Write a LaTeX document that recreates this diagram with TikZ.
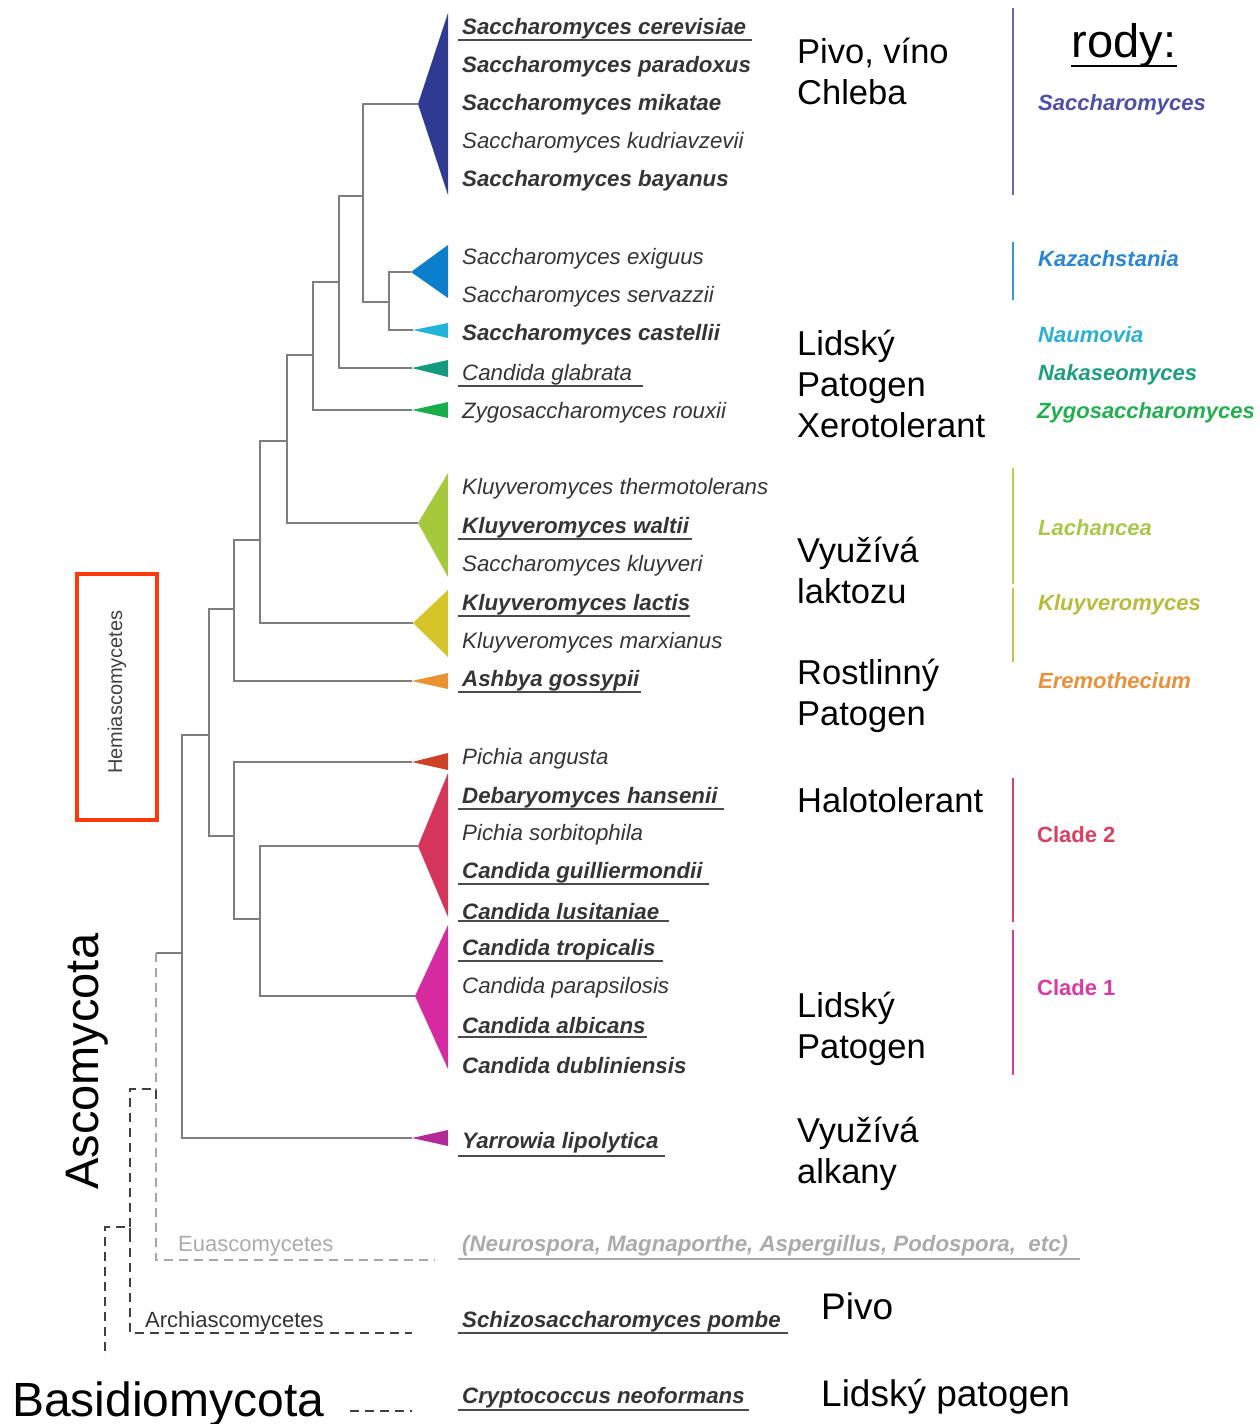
\documentclass[tikz,border=0pt]{standalone}
\usepackage{fontspec}
\setmainfont{Liberation Sans}
\definecolor{treegray}{HTML}{7E7E7E}
\definecolor{spgray}{HTML}{353535}
\definecolor{ulgray}{HTML}{4A4A4A}
\definecolor{eugray}{HTML}{ABABAB}
\definecolor{hemired}{HTML}{FF3A0A}
\definecolor{csac}{HTML}{2F3B93}
\definecolor{ckaz}{HTML}{0B7FCB}
\definecolor{ccas}{HTML}{22B3DA}
\definecolor{cgla}{HTML}{159A7F}
\definecolor{czyg}{HTML}{17AD4A}
\definecolor{clac}{HTML}{A6C83B}
\definecolor{cklu}{HTML}{D6C52A}
\definecolor{cash}{HTML}{EA9130}
\definecolor{cpic}{HTML}{CF4125}
\definecolor{ccltwo}{HTML}{D5355A}
\definecolor{cclone}{HTML}{D62AA0}
\definecolor{cyar}{HTML}{B12A98}
\definecolor{gsac}{HTML}{4E4FA8}
\definecolor{gkaz}{HTML}{2A86D0}
\definecolor{gnau}{HTML}{2BB0D4}
\definecolor{gnak}{HTML}{1E9E80}
\definecolor{gzyg}{HTML}{21B050}
\definecolor{glac}{HTML}{A9C84A}
\definecolor{gklu}{HTML}{B8BB3E}
\definecolor{gere}{HTML}{E8903A}
\definecolor{gcltwo}{HTML}{D84060}
\definecolor{gclone}{HTML}{D83CA0}
\definecolor{bsac}{HTML}{6666B8}
\definecolor{bkaz}{HTML}{3399D6}
\definecolor{blac}{HTML}{B5D050}
\definecolor{bklu}{HTML}{C8C44A}
\tikzset{
 br/.style={draw=treegray, line width=2.3pt},
 dk/.style={draw=black!75, line width=1.8pt, dash pattern=on 9pt off 6pt},
 lt/.style={draw=black!35, line width=1.8pt, dash pattern=on 9pt off 6pt},
 sp/.style={anchor=west, inner sep=0pt, yshift=-2pt, text=spgray, font=\fontsize{22.3}{26}\selectfont\itshape},
 spb/.style={sp, font=\fontsize{22.3}{26}\selectfont\bfseries\itshape},
 ul/.style={draw=ulgray, line width=2pt},
 ann/.style={anchor=west, inner sep=0pt, align=left, font=\fontsize{34.5}{41}\selectfont},
 annbig/.style={anchor=west, inner sep=0pt, align=left, font=\fontsize{37}{42}\selectfont},
 gen/.style={anchor=west, inner sep=0pt, yshift=-2pt, font=\fontsize{22}{26}\selectfont\bfseries\itshape},
 clade/.style={anchor=west, inner sep=0pt, yshift=-2pt, font=\fontsize{22}{26}\selectfont\bfseries},
 grp/.style={anchor=west, inner sep=0pt, yshift=-2pt, font=\fontsize{22}{26}\selectfont},
 gbar/.style={line width=2.5pt},
}
\begin{document}
\begin{tikzpicture}[x=1pt,y=-1pt]
\useasboundingbox (0,0) rectangle (1260,1424);

% ---- collapsed clades (triangles) ----
\coordinate (sac) at (418,104);
\coordinate (kaz) at (411,272);
\coordinate (cas) at (413,330);
\coordinate (gla) at (412,368);
\coordinate (zyg) at (412,410);
\coordinate (lac) at (418,523);
\coordinate (klu) at (413,623);
\coordinate (ash) at (412,681);
\coordinate (pic) at (412,762);
\coordinate (cltwo) at (418,846);
\coordinate (clone) at (415,996);
\coordinate (yar) at (412,1138);

\fill[csac] (sac) -- (448,13) -- (448,195) -- cycle;
\fill[ckaz] (kaz) -- (448,245) -- (448,298) -- cycle;
\fill[ccas] (cas) -- (448,323) -- (448,338) -- cycle;
\fill[cgla] (gla) -- (448,360) -- (448,377) -- cycle;
\fill[czyg] (zyg) -- (448,402) -- (448,418) -- cycle;
\fill[clac] (lac) -- (448,473) -- (448,577) -- cycle;
\fill[cklu] (klu) -- (448,590) -- (448,657) -- cycle;
\fill[cash] (ash) -- (448,673) -- (448,689) -- cycle;
\fill[cpic] (pic) -- (448,753) -- (448,770) -- cycle;
\fill[ccltwo] (cltwo) -- (448,773) -- (448,917) -- cycle;
\fill[cclone] (clone) -- (448,925) -- (448,1069) -- cycle;
\fill[cyar] (yar) -- (448,1130) -- (448,1146) -- cycle;

% ---- internal nodes ----
\coordinate (nB) at (389,302);
\coordinate (nA) at (363,196);
\coordinate (nC) at (339,282);
\coordinate (nD) at (313,355);
\coordinate (nE) at (287,441);
\coordinate (nF) at (260,540);
\coordinate (nG) at (234,609);
\coordinate (nI) at (260,919);
\coordinate (nH) at (234,836);
\coordinate (nJ) at (209,735);
\coordinate (nK) at (182,953);
\coordinate (nL) at (156,953);

\draw[br] (nB) |- (kaz);  \draw[br] (nB) |- (cas);
\draw[br] (nA) |- (sac);  \draw[br] (nA) |- (nB);
\draw[br] (nC) |- (nA);   \draw[br] (nC) |- (gla);
\draw[br] (nD) |- (nC);   \draw[br] (nD) |- (zyg);
\draw[br] (nE) |- (nD);   \draw[br] (nE) |- (lac);
\draw[br] (nF) |- (nE);   \draw[br] (nF) |- (klu);
\draw[br] (nG) |- (nF);   \draw[br] (nG) |- (ash);
\draw[br] (nI) |- (cltwo); \draw[br] (nI) |- (clone);
\draw[br] (nH) |- (pic);  \draw[br] (nH) |- (nI);
\draw[br] (nJ) |- (nG);   \draw[br] (nJ) |- (nH);
\draw[br] (nK) |- (nJ);   \draw[br] (nK) |- (yar);
\draw[br] (nL) -- (nK);

% ---- dashed deep branches ----
\coordinate (euEnd) at (435,1260);
\draw[lt] (nL) |- (euEnd);
\coordinate (hemiEu) at (156,1099);
\coordinate (hemiEuTop) at (156,1089);
\coordinate (arN) at (130,1089);
\coordinate (archEnd) at (412,1333);
\draw[dk] (hemiEu) -- (hemiEuTop) -- (arN) |- (archEnd);
\coordinate (arTick) at (130,1237);
\coordinate (arTop) at (130,1227);
\coordinate (rootTop) at (105,1227);
\coordinate (root) at (105,1357);
\draw[dk] (arTick) -- (arTop) -- (rootTop) -- (root);
\coordinate (basS) at (350,1411);
\coordinate (basE) at (412,1411);
\draw[dk] (basS) -- (basE);

% ---- species ----
\node[spb] (s1) at (462,27) {Saccharomyces cerevisiae};
\draw[ul] (458,40) -- (752,40);
\node[spb] (s2) at (462,65) {Saccharomyces paradoxus};
\node[spb] (s3) at (462,103) {Saccharomyces mikatae};
\node[sp] (s4) at (462,141) {Saccharomyces kudriavzevii};
\node[spb] (s5) at (462,179) {Saccharomyces bayanus};
\node[sp] (s6) at (462,257) {Saccharomyces exiguus};
\node[sp] (s7) at (462,295) {Saccharomyces servazzii};
\node[spb] (s8) at (462,333) {Saccharomyces castellii};
\node[sp] (s9) at (462,373) {Candida glabrata};
\draw[ul] (458,386) -- (643,386);
\node[sp] (s10) at (462,411) {Zygosaccharomyces rouxii};
\node[sp] (s11) at (462,487) {Kluyveromyces thermotolerans};
\node[spb] (s12) at (462,526) {Kluyveromyces waltii};
\draw[ul] (458,539) -- (692,539);
\node[sp] (s13) at (462,564) {Saccharomyces kluyveri};
\node[spb] (s14) at (462,603) {Kluyveromyces lactis};
\draw[ul] (458,616) -- (690,616);
\node[sp] (s15) at (462,641) {Kluyveromyces marxianus};
\node[spb] (s16) at (462,679) {Ashbya gossypii};
\draw[ul] (458,692) -- (641,692);
\node[sp] (s17) at (462,757) {Pichia angusta};
\node[spb] (s18) at (462,796) {Debaryomyces hansenii};
\draw[ul] (458,809) -- (724,809);
\node[sp] (s19) at (462,833) {Pichia sorbitophila};
\node[spb] (s20) at (462,871) {Candida guilliermondii};
\draw[ul] (458,884) -- (709,884);
\node[spb] (s21) at (462,910) {Candida lusitaniae};
\draw[ul] (458,921) -- (669,921);
\node[spb] (s22) at (462,948) {Candida tropicalis};
\draw[ul] (458,961) -- (663,961);
\node[sp] (s23) at (462,986) {Candida parapsilosis};
\node[spb] (s24) at (462,1024) {Candida albicans};
\draw[ul] (458,1037) -- (647,1037);
\node[spb] (s25) at (462,1064) {Candida dubliniensis};
\node[spb] (s26) at (462,1141) {Yarrowia lipolytica};
\draw[ul] (458,1156) -- (665,1156);
\node[spb, text=eugray] (s27) at (462,1244) {(Neurospora, Magnaporthe, Aspergillus, Podospora,\ \ etc)};
\draw[ul, draw=eugray] (458,1259) -- (1080,1259);
\node[spb] (s28) at (462,1320) {Schizosaccharomyces pombe};
\draw[ul] (458,1333) -- (788,1333);
\node[spb] (s29) at (462,1396) {Cryptococcus neoformans};
\draw[ul] (458,1410) -- (749,1410);

% ---- group labels on the tree ----
\node[grp, text=eugray] (eu) at (178,1244) {Euascomycetes};
\node[grp, text=black!80] (arch) at (145,1320) {Archiascomycetes};
\node[draw=hemired, line width=4.5pt, minimum width=80pt, minimum height=246pt, inner sep=0pt] (hemibox) at (117,697) {};
\node[rotate=90, inner sep=0pt, text=black!75, font=\fontsize{20}{24}\selectfont] (hemi) at (117,692) {Hemiascomycetes};
\node[rotate=90, anchor=base west, inner sep=0pt, font=\fontsize{47}{50}\selectfont] (asco) at (98,1190) {Ascomycota};
\node[anchor=base west, inner sep=0pt, font=\fontsize{48}{50}\selectfont] (basi) at (12,1416) {Basidiomycota};

% ---- annotations ----
\node[ann] (a1) at (797,71.5) {Pivo, víno\\Chleba};
\node[ann] (a2) at (797,384) {Lidský\\Patogen\\Xerotolerant};
\node[ann] (a3) at (797,570.5) {Využívá\\laktozu};
\node[ann] (a4) at (797,696) {Rostlinný\\Patogen};
\node[ann] (a5) at (797,800) {Halotolerant};
\node[ann] (a6) at (797,1028.5) {Lidský\\Patogen};
\node[ann] (a7) at (797,1154) {Využívá\\alkany};
\node[annbig] (a8) at (821,1306) {Pivo};
\node[annbig] (a9) at (821,1397) {Lidský patogen};

% ---- genera column ----
\node[inner sep=0pt, font=\fontsize{47}{50}\selectfont] (rody) at (1124,45) {rody:};
\draw[line width=2.5pt] (1071,66) -- (1177,66);
\draw[gbar, draw=bsac] (1013,8) -- (1013,195);
\draw[gbar, draw=bkaz] (1013,242) -- (1013,300);
\draw[gbar, draw=blac] (1013,468) -- (1013,584);
\draw[gbar, draw=bklu] (1013,588) -- (1013,662);
\draw[gbar, draw=gcltwo] (1013,778) -- (1013,922);
\draw[gbar, draw=gclone] (1013,930) -- (1013,1075);
\node[gen, text=gsac] (g1) at (1038,103) {Saccharomyces};
\node[gen, text=gkaz] (g2) at (1038,257) {Kazachstania};
\node[gen, text=gnau] (g3) at (1038,333) {Naumovia};
\node[gen, text=gnak] (g4) at (1038,373) {Nakaseomyces};
\node[gen, text=gzyg] (g5) at (1037,411) {Zygosaccharomyces};
\node[gen, text=glac] (g6) at (1038,526) {Lachancea};
\node[gen, text=gklu] (g7) at (1038,603) {Kluyveromyces};
\node[gen, text=gere] (g8) at (1038,679) {Eremothecium};
\node[clade, text=gcltwo] (g9) at (1037,833) {Clade 2};
\node[clade, text=gclone] (g10) at (1037,986) {Clade 1};
\end{tikzpicture}
\end{document}
